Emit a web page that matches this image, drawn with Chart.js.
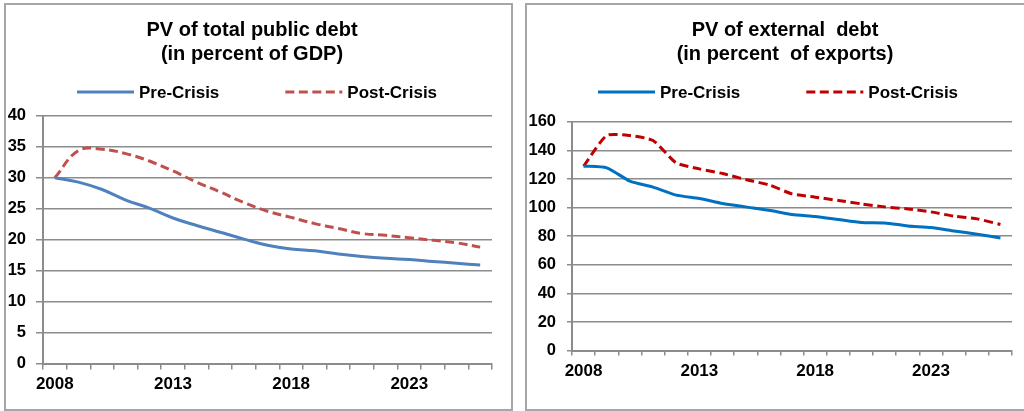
<!DOCTYPE html>
<html>
<head>
<meta charset="utf-8">
<script src="https://cdn.jsdelivr.net/npm/chart.js@4.4.1/dist/chart.umd.min.js"></script>
<style>
  body { margin: 0; width: 1024px; height: 411px; overflow: hidden; background: #fff; position: relative; }
  .panel { position: absolute; top: 3px; height: 404px; border: 2px solid #a6a6a6; }
  #left { left: 4px; width: 505px; }
  #right { left: 525px; width: 497px; border-right: none; }
  canvas { display: block; }
</style>
</head>
<body>
<div class="panel" id="left"><canvas id="gdpChart" width="505" height="404"></canvas></div>
<div class="panel" id="right"><canvas id="expChart" width="497" height="404"></canvas></div>
<script>
// categories
var years = ['2008', '2009', '2010', '2011', '2012', '2013', '2014', '2015', '2016', '2017',
             '2018', '2019', '2020', '2021', '2022', '2023', '2024', '2025', '2026'];
var shownYears = ['2008', '2013', '2018', '2023'];

// PV of total public debt, % of GDP
var gdpPre  = [30.0, 29.3, 28.1, 26.4, 25.1, 23.5, 22.3, 21.2, 20.1, 19.1, 18.5, 18.2, 17.7, 17.3, 17.0, 16.8, 16.5, 16.2, 15.9];
var gdpPost = [30.0, 34.4, 34.6, 33.9, 32.7, 31.1, 29.3, 27.7, 26.0, 24.6, 23.6, 22.6, 21.8, 21.0, 20.7, 20.3, 19.9, 19.5, 18.8];
var gdpTicks = [0, 5, 10, 15, 20, 25, 30, 35, 40];

// PV of external debt, % of exports
var expPre  = [129, 127.8, 118.5, 114.3, 108.7, 106.4, 102.9, 100.5, 98.2, 95.2, 93.8, 91.7, 89.6, 89.3, 87.2, 86.1, 83.7, 81.4, 78.8];
var expPost = [129, 150.4, 150.4, 146.9, 131.3, 127.1, 123.8, 119.6, 115.9, 109.6, 107.3, 105.0, 102.6, 100.5, 99.1, 97.0, 94.0, 92.1, 88.2];
var expTicks = [0, 20, 40, 60, 80, 100, 120, 140, 160];

var FONT = '"Liberation Sans", Arial, sans-serif';
var GRID = '#8c8c8c';

// legend drawn as line samples, excel style; also nudges the title sideways
var lineLegend = {
  id: 'lineLegend',
  afterLayout: function(chart, args, opts) {
    var t = chart.titleBlock;
    if (t) { t.left += opts.titleShift; t.right += opts.titleShift; }
  },
  afterDraw: function(chart, args, opts) {
    var ctx = chart.ctx;
    var x = opts.x;
    ctx.save();
    ctx.font = 'bold 17px ' + FONT;
    ctx.textBaseline = 'middle';
    ctx.fillStyle = '#000';
    chart.data.datasets.forEach(function(ds) {
      ctx.beginPath();
      ctx.strokeStyle = ds.borderColor;
      ctx.lineWidth = ds.borderWidth;
      ctx.setLineDash(ds.borderDash || []);
      ctx.moveTo(x, opts.y);
      ctx.lineTo(x + 57, opts.y);
      ctx.stroke();
      ctx.fillText(ds.label, x + 62, opts.y + 1);
      x += 62 + ctx.measureText(ds.label).width + 66;
    });
    ctx.restore();
  }
};

function makeChart(id, title, pre, post, ticks, c) {
  return new Chart(document.getElementById(id), {
    type: 'line',
    data: {
      labels: years,
      datasets: [{
        label: 'Pre-Crisis',
        data: pre,
        borderColor: c.blue,
        borderWidth: 3,
        pointRadius: 0,
        tension: c.tension
      }, {
        label: 'Post-Crisis',
        data: post,
        borderColor: c.red,
        borderWidth: 3,
        borderDash: [9, 4.5],
        pointRadius: 0,
        tension: c.tension
      }]
    },
    plugins: [lineLegend],
    options: {
      responsive: false,
      animation: false,
      layout: { padding: c.pad },
      plugins: {
        legend: { display: false },
        tooltip: { enabled: false },
        lineLegend: { x: 71, y: 87, titleShift: c.titleShift },
        title: {
          display: true,
          text: title,
          color: '#000',
          font: { family: FONT, size: 20, weight: 'bold', lineHeight: 1.22 },
          padding: { top: 13, bottom: c.titleBottom }
        }
      },
      scales: {
        x: {
          offset: true,
          grid: { offset: true, drawOnChartArea: false, drawTicks: true, tickLength: c.xTick, color: GRID, lineWidth: 1.5 },
          border: { color: GRID, width: 2 },
          ticks: {
            autoSkip: false,
            maxRotation: 0,
            padding: c.xPad,
            color: '#000',
            font: { family: FONT, size: 17, weight: 'bold' },
            callback: function(value) {
              var lab = this.getLabelForValue(value);
              return shownYears.indexOf(lab) >= 0 ? lab : '';
            }
          }
        },
        y: {
          min: ticks[0],
          max: ticks[ticks.length - 1],
          afterFit: function(scale) { scale.width = c.yWidth; },
          grid: { color: GRID, lineWidth: 1.5, tickLength: c.yTick },
          border: { color: GRID, width: 2 },
          ticks: {
            stepSize: ticks[1] - ticks[0],
            padding: c.yPad,
            color: '#000',
            font: { family: FONT, size: 16.5, weight: 'bold' }
          }
        }
      }
    }
  });
}

var gdpChart = makeChart('gdpChart', ['PV of total public debt', '(in percent of GDP)'], gdpPre, gdpPost, gdpTicks, {
  blue: '#4f81bd', red: '#c0504d', tension: 0.4,
  pad: { left: 0, right: 19, top: 0, bottom: 9 },
  titleBottom: 49, titleShift: 3, yWidth: 37, yTick: 7, yPad: 10, xTick: 6, xPad: 5
});

var expChart = makeChart('expChart', ['PV of external  debt', '(in percent  of exports)'], expPre, expPost, expTicks, {
  blue: '#0070c0', red: '#c00000', tension: 0.2,
  pad: { left: 0, right: 12, top: 0, bottom: 22 },
  titleBottom: 55, titleShift: 15.5, yWidth: 45, yTick: 5, yPad: 11, xTick: 5, xPad: 5.5
});
</script>
</body>
</html>
